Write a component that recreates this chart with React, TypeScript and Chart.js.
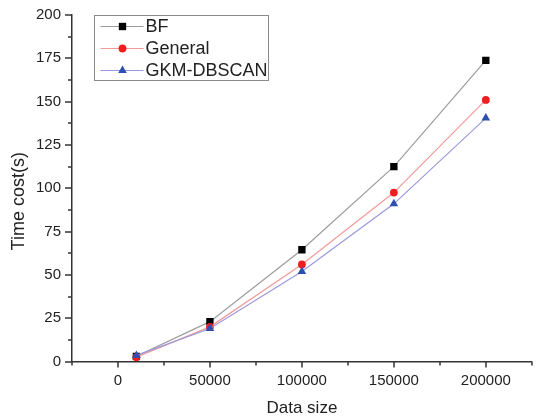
import React, { useEffect, useRef } from 'react';
import { Chart, registerables } from 'chart.js';

Chart.register(...registerables);

const dataSizes = [10000, 50000, 100000, 150000, 200000];
const bfTimes = [3, 23, 64.5, 112.5, 173.8];
const generalTimes = [2.5, 20, 56, 97.5, 151];
const gkmTimes = [3.5, 19, 52, 91, 140.5];
const seriesNames = ['BF', 'General', 'GKM-DBSCAN'];
const xTickLabels = [0, 50000, 100000, 150000, 200000];
const yTickLabels = [0, 25, 50, 75, 100, 125, 150, 175, 200];
const xAxisTitle = 'Data size';
const yAxisTitle = 'Time cost(s)';

const FONT = '"Liberation Sans", Arial, sans-serif';
const AXIS_COLOR = '#333333';
const TEXT_COLOR = '#222222';

const seriesStyles = [
  { line: '#9c9c9c', marker: '#000000', shape: 'rect', radius: 5.2 },
  { line: '#f29a9a', marker: '#f01e1e', shape: 'circle', radius: 3.9 },
  { line: '#9a9ade', marker: '#2f4fb0', shape: 'triangle', radius: 5 },
];

function drawMarker(ctx: CanvasRenderingContext2D, shape: string, x: number, y: number, r: number, color: string) {
  ctx.fillStyle = color;
  ctx.beginPath();
  if (shape === 'rect') {
    const s = Math.SQRT1_2 * r;
    ctx.rect(x - s, y - s, 2 * s, 2 * s);
  } else if (shape === 'circle') {
    ctx.arc(x, y, r, 0, Math.PI * 2);
  } else {
    let a = 0;
    ctx.moveTo(x + Math.sin(a) * r, y - Math.cos(a) * r);
    a += (2 * Math.PI) / 3;
    ctx.lineTo(x + Math.sin(a) * r, y - Math.cos(a) * r);
    a += (2 * Math.PI) / 3;
    ctx.lineTo(x + Math.sin(a) * r, y - Math.cos(a) * r);
    ctx.closePath();
  }
  ctx.fill();
}

const tickPlugin = {
  id: 'customTicks',
  afterDraw(chart: any) {
    const ctx = chart.ctx as CanvasRenderingContext2D;
    const xs = chart.scales.x;
    const ys = chart.scales.y;
    ctx.save();
    ctx.strokeStyle = AXIS_COLOR;
    ctx.lineWidth = 1.5;
    xs.ticks.forEach((t: any) => {
      const px = Math.round(xs.getPixelForValue(t.value));
      const major = xTickLabels.includes(t.value);
      ctx.beginPath();
      ctx.moveTo(px, xs.top);
      ctx.lineTo(px, xs.top + (major ? 6 : 4));
      ctx.stroke();
    });
    ys.ticks.forEach((t: any) => {
      const py = Math.round(ys.getPixelForValue(t.value));
      const major = yTickLabels.includes(t.value);
      ctx.beginPath();
      ctx.moveTo(ys.right, py);
      ctx.lineTo(ys.right - (major ? 7 : 4), py);
      ctx.stroke();
    });
    // y-axis title
    ctx.save();
    ctx.translate(19, (ys.top + ys.bottom) / 2 + 13);
    ctx.rotate(-Math.PI / 2);
    ctx.font = `18px ${FONT}`;
    ctx.fillStyle = TEXT_COLOR;
    ctx.textAlign = 'center';
    ctx.textBaseline = 'middle';
    ctx.fillText(yAxisTitle, 0, 0);
    ctx.restore();
    ctx.restore();
  },
};

const legendPlugin = {
  id: 'boxLegend',
  afterDraw(chart: any) {
    const ctx = chart.ctx as CanvasRenderingContext2D;
    const area = chart.chartArea;
    const left = area.left + 22.5;
    const top = area.top + 0.5;
    const w = 174;
    const h = 65;
    ctx.save();
    ctx.fillStyle = '#ffffff';
    ctx.fillRect(left, top, w, h);
    ctx.strokeStyle = '#8a8a8a';
    ctx.lineWidth = 1;
    ctx.strokeRect(left, top, w, h);
    ctx.font = `18px ${FONT}`;
    ctx.textBaseline = 'middle';
    ctx.textAlign = 'left';
    seriesNames.forEach((name, i) => {
      const st = seriesStyles[i];
      const cy = top + 11 + i * 22;
      ctx.strokeStyle = st.line;
      ctx.lineWidth = 1.2;
      ctx.beginPath();
      ctx.moveTo(left + 6, cy);
      ctx.lineTo(left + 49, cy);
      ctx.stroke();
      drawMarker(ctx, st.shape, left + 28, cy, st.radius, st.marker);
      ctx.fillStyle = TEXT_COLOR;
      ctx.fillText(name, left + 51, cy + 1);
    });
    ctx.restore();
  },
};

export default function App() {
  const canvasRef = useRef<HTMLCanvasElement | null>(null);

  useEffect(() => {
    if (!canvasRef.current) return;
    const allSeries = [bfTimes, generalTimes, gkmTimes];
    const chart = new Chart(canvasRef.current, {
      type: 'line',
      data: {
        datasets: allSeries.map((vals, i) => ({
          label: seriesNames[i],
          data: dataSizes.map((x, j) => ({ x, y: vals[j] })),
          borderColor: seriesStyles[i].line,
          borderWidth: 1.2,
          pointStyle: seriesStyles[i].shape as any,
          pointRadius: seriesStyles[i].radius,
          pointBackgroundColor: seriesStyles[i].marker,
          pointBorderColor: seriesStyles[i].marker,
          pointBorderWidth: 0,
          tension: 0,
          fill: false,
          order: 3 - i,
        })),
      },
      options: {
        animation: false,
        responsive: false,
        events: [],
        layout: { padding: { top: 15, left: 0, right: 0, bottom: 0 } },
        plugins: { legend: { display: false }, tooltip: { enabled: false } },
        scales: {
          x: {
            type: 'linear',
            min: -25000,
            max: 225000,
            afterFit: (s: any) => {
              s.height = 58.5;
              s.paddingLeft = 0;
              s.paddingRight = 0;
            },
            grid: { display: true, drawOnChartArea: false, drawTicks: false },
            border: { display: true, color: AXIS_COLOR, width: 1.5 },
            ticks: {
              stepSize: 25000,
              autoSkip: false,
              maxRotation: 0,
              padding: 10,
              color: TEXT_COLOR,
              font: { family: FONT, size: 15 },
              callback: (v: any) => (xTickLabels.includes(v) ? String(v) : ''),
            },
            title: {
              display: true,
              text: xAxisTitle,
              color: TEXT_COLOR,
              font: { family: FONT, size: 17 },
              padding: { top: 0, bottom: 1 },
            },
          },
          y: {
            type: 'linear',
            min: 0,
            max: 200,
            afterFit: (s: any) => {
              s.width = 72;
              s.paddingTop = 0;
              s.paddingBottom = 0;
            },
            grid: { display: true, drawOnChartArea: false, drawTicks: false },
            border: { display: true, color: AXIS_COLOR, width: 1.5 },
            ticks: {
              stepSize: 12.5,
              autoSkip: false,
              padding: 11,
              color: TEXT_COLOR,
              font: { family: FONT, size: 15 },
              callback: (v: any) => (yTickLabels.includes(v) ? String(v) : ''),
            },
            title: { display: false },
          },
        },
      },
      plugins: [tickPlugin, legendPlugin],
    });
    return () => chart.destroy();
  }, []);

  return (
    <div style={{ position: 'absolute', left: 0, top: 0, width: 537, height: 420, background: '#fff' }}>
      <canvas ref={canvasRef} width={537} height={420} />
    </div>
  );
}
